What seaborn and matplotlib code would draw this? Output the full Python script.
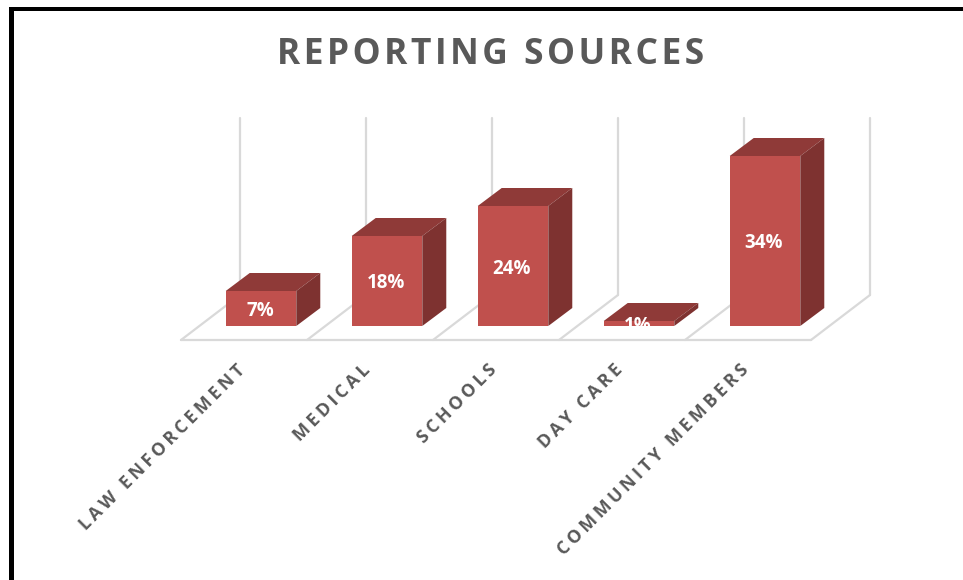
import matplotlib
matplotlib.use("Agg")
import matplotlib.pyplot as plt
import seaborn as sns
import pandas as pd
from matplotlib.patches import Polygon, Rectangle
from matplotlib.transforms import Affine2D

categories = ["LAW ENFORCEMENT", "MEDICAL", "SCHOOLS", "DAY CARE", "COMMUNITY MEMBERS"]
values = [7, 18, 24, 1, 34]
title_text = "REPORTING SOURCES"

sns.set_theme(style="white")
plt.rcParams["font.family"] = ["Open Sans", "DejaVu Sans"]

W, H = 963, 580
FRONT, TOP, SIDE = "#C0504D", "#8F3A38", "#7E3230"
GRID, TEXT = "#D9D9D9", "#595959"
HAIR = "\u200a"

def spaced(s, n=1):
    return (HAIR * n).join(s)

fig = plt.figure(figsize=(W / 100, H / 100), dpi=100, facecolor="white")
ax = fig.add_axes([0, (H - 340) / H, 1, 340 / H])
df = pd.DataFrame({"source": categories, "pct": values})
sns.barplot(data=df, x="source", y="pct", color=FRONT, saturation=1, width=0.56, ax=ax, zorder=5,
            linewidth=0, edgecolor="none")
ax.set_xlim(-261 / 126, (W - 261) / 126)
ax.set_ylim(-14 / 5, 326 / 5)
ax.set_xlabel("")
ax.set_ylabel("")
ax.set_yticks([])
ax.patch.set_alpha(0)
for s in ax.spines.values():
    s.set_visible(False)

ax.set_xticks(range(len(categories)))
ax.set_xticklabels([spaced(c, 2) for c in categories], rotation=45, ha="right", va="top",
                   rotation_mode="anchor", fontsize=12.75, fontweight="bold", color=TEXT)
ax.tick_params(axis="x", length=0, pad=15)
for lab in ax.get_xticklabels():
    lab.set_transform(lab.get_transform() + Affine2D().translate(-25.5, 0))

# floor and back walls, in display pixels from the category bands
n = len(categories)
base = ax.transData.transform((-0.5, 0))
step = ax.transData.transform((0.5, 0))[0] - base[0]
wall_top = ax.transData.transform((0, 41.6))[1]
fx, fy = base[0] - 17, base[1] - 14
bx, by = fx + 59, fy + 45
kw = dict(color=GRID, lw=1.6, transform=None, clip_on=False, zorder=1, solid_capstyle="round")
for k in range(n + 1):
    ax.plot([fx + k * step, bx + k * step], [fy, by], **kw)
    ax.plot([bx + k * step] * 2, [by, wall_top], **kw)
ax.plot([fx, fx + n * step], [fy, fy], **kw)

# 3-D extrusion of each bar
DX, DY = 24, 18
for p in ax.patches[:n]:
    (x0, y0), (x1, y1) = ax.transData.transform([(p.get_x(), 0), (p.get_x() + p.get_width(), p.get_height())])
    ax.add_patch(Polygon([(x0, y1), (x1, y1), (x1 + DX, y1 + DY), (x0 + DX, y1 + DY)],
                         closed=True, fc=TOP, ec="none", transform=None, zorder=4))
    ax.add_patch(Polygon([(x1, y0), (x1 + DX, y0 + DY), (x1 + DX, y1 + DY), (x1, y1)],
                         closed=True, fc=SIDE, ec="none", transform=None, zorder=4))

bars = list(ax.patches[:n])
for p, v in zip(bars, values):
    t = ax.text(p.get_x() + p.get_width() / 2 - 1 / 126, v / 2, f"{v}%", ha="center", va="center_baseline",
                color="white", fontsize=13.5, fontweight="bold", zorder=6)
    t.set_clip_on(True)
    t.set_clip_path(Rectangle((p.get_x(), 0), p.get_width(), 100, transform=ax.transData))

fig.text(490.5 / W, 1 - 55.5 / H, spaced(title_text, 1), ha="center", va="center", fontsize=25.5,
         fontweight="bold", color=TEXT)

# outer frame
fig.add_artist(Rectangle((8.5 / W, 0), 5.5 / W, 1 - 7 / H, transform=fig.transFigure, fc="black", ec="none"))
fig.add_artist(Rectangle((8.5 / W, 1 - 10.5 / H), 1, 3.5 / H, transform=fig.transFigure, fc="black", ec="none"))

fig.savefig("out.png", dpi=100, facecolor="white")
